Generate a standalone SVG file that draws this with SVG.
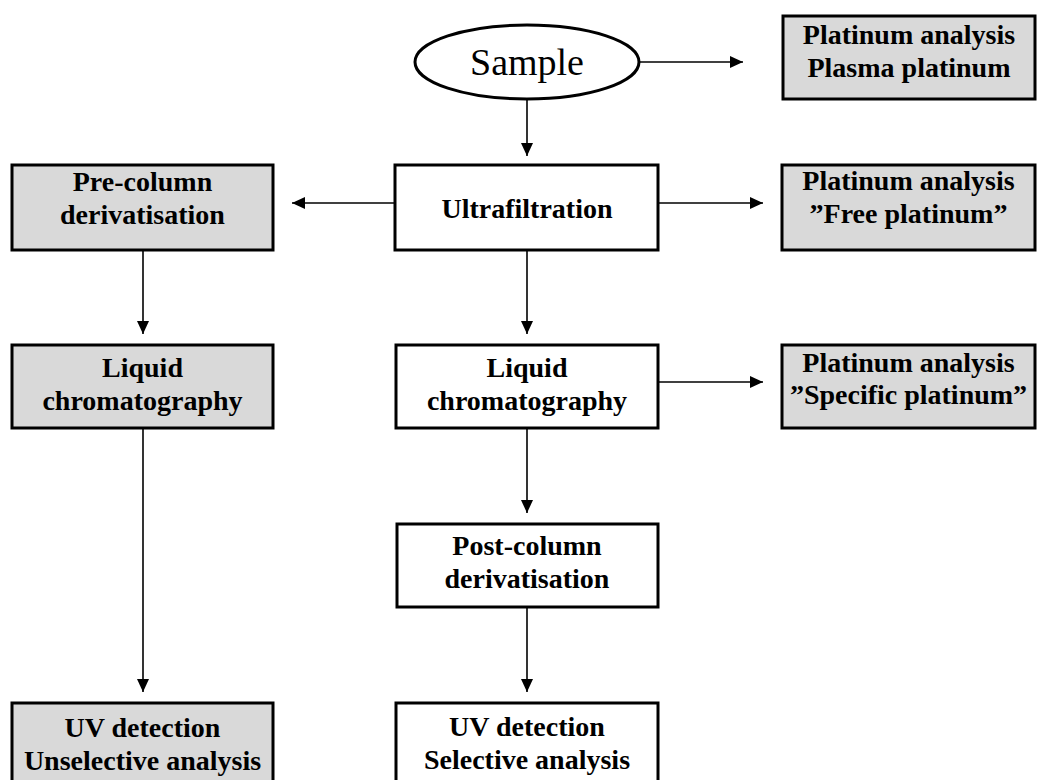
<svg xmlns="http://www.w3.org/2000/svg" width="1037" height="780" viewBox="0 0 1037 780">
<style>
.box{stroke:#000;stroke-width:3}
.g{fill:#d9d9d9}
.w{fill:#fff}
.t{font-family:"Liberation Serif","Times New Roman",serif;font-weight:bold;font-size:28px;text-anchor:middle;fill:#000}
.c{stroke:#000;stroke-width:1.6;fill:none;marker-end:url(#ah)}
</style>
<defs>
<marker id="ah" markerUnits="userSpaceOnUse" markerWidth="13" markerHeight="12" refX="13" refY="6" orient="auto">
<path d="M0,0 L13,6 L0,12 z" fill="#000"/>
</marker>
</defs>
<rect width="1037" height="780" fill="#fff"/>
<g id="connectors">
<line class="c" x1="639" y1="62" x2="743" y2="62"/>
<line class="c" x1="527" y1="99" x2="527" y2="156"/>
<line class="c" x1="395" y1="203" x2="292" y2="203"/>
<line class="c" x1="658" y1="203" x2="763" y2="203"/>
<line class="c" x1="527" y1="250" x2="527" y2="334"/>
<line class="c" x1="143" y1="250" x2="143" y2="334"/>
<line class="c" x1="658" y1="382" x2="763" y2="382"/>
<line class="c" x1="527" y1="428" x2="527" y2="513"/>
<line class="c" x1="143" y1="428" x2="143" y2="692"/>
<line class="c" x1="527" y1="607" x2="527" y2="692"/>
</g>
<g id="sample">
<ellipse class="box w" cx="527" cy="62" rx="112" ry="37"/>
<text x="527" y="75" style="font-family:'Liberation Serif','Times New Roman',serif;font-size:38px;text-anchor:middle">Sample</text>
</g>
<g id="plasma">
<rect class="box g" x="783" y="16" width="252" height="83"/>
<text class="t" x="909" y="44">Platinum analysis</text>
<text class="t" x="909" y="77">Plasma platinum</text>
</g>
<g id="precolumn">
<rect class="box g" x="12" y="165" width="261" height="85"/>
<text class="t" x="142.5" y="191">Pre-column</text>
<text class="t" x="142.5" y="224">derivatisation</text>
</g>
<g id="ultrafiltration">
<rect class="box w" x="395" y="165" width="263" height="85"/>
<text class="t" x="527" y="218">Ultrafiltration</text>
</g>
<g id="free">
<rect class="box g" x="782" y="165" width="253" height="85"/>
<text class="t" x="908.5" y="190">Platinum analysis</text>
<text class="t" x="908.5" y="223">”Free platinum”</text>
</g>
<g id="lc-left">
<rect class="box g" x="12" y="345" width="261" height="83"/>
<text class="t" x="142.5" y="377">Liquid</text>
<text class="t" x="142.5" y="410">chromatography</text>
</g>
<g id="lc-center">
<rect class="box w" x="396" y="345" width="262" height="83"/>
<text class="t" x="527" y="377">Liquid</text>
<text class="t" x="527" y="410">chromatography</text>
</g>
<g id="specific">
<rect class="box g" x="782" y="345" width="253" height="83"/>
<text class="t" x="908.5" y="372">Platinum analysis</text>
<text class="t" x="908.5" y="404">”Specific platinum”</text>
</g>
<g id="postcolumn">
<rect class="box w" x="397" y="524" width="261" height="83"/>
<text class="t" x="527" y="555">Post-column</text>
<text class="t" x="527" y="588">derivatisation</text>
</g>
<g id="uv-left">
<rect class="box g" x="12" y="703" width="261" height="88"/>
<text class="t" x="142.5" y="737">UV detection</text>
<text class="t" x="142.5" y="770">Unselective analysis</text>
</g>
<g id="uv-center">
<rect class="box w" x="396" y="703" width="262" height="88"/>
<text class="t" x="527" y="736">UV detection</text>
<text class="t" x="527" y="769">Selective analysis</text>
</g>
</svg>
